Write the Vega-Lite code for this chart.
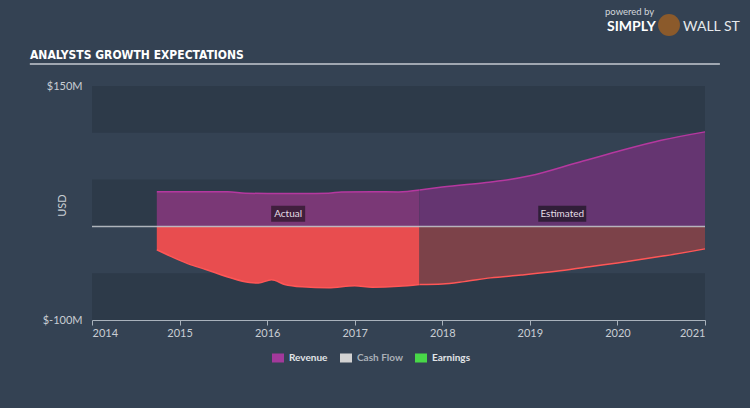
{
  "$schema": "https://vega.github.io/schema/vega-lite/v6.json",
  "width": 613,
  "height": 234,
  "autosize": {"type": "none"},
  "padding": {"left": 92, "top": 86, "right": 45, "bottom": 88},
  "background": "#344253",
  "config": {
    "view": {"stroke": null},
    "font": "Lato",
    "axis": {"labelFont": "Lato", "titleFont": "Lato"}
  },
  "datasets": {
    "bands": [
      {"x1": 2014, "x2": 2021, "lo": 100, "hi": 150},
      {"x1": 2014, "x2": 2021, "lo": 0, "hi": 50},
      {"x1": 2014, "x2": 2021, "lo": -100, "hi": -50}
    ],
    "revActual": [
      {"year": 2014.74, "value": 37.0},
      {"year": 2015.2, "value": 37.0},
      {"year": 2015.55, "value": 37.0},
      {"year": 2015.75, "value": 35.5},
      {"year": 2016.0, "value": 35.2},
      {"year": 2016.4, "value": 35.2},
      {"year": 2016.7, "value": 35.5},
      {"year": 2016.85, "value": 36.8},
      {"year": 2017.2, "value": 37.0},
      {"year": 2017.5, "value": 36.8},
      {"year": 2017.74, "value": 38.8}
    ],
    "revEst": [
      {"year": 2017.74, "value": 38.8},
      {"year": 2018.0, "value": 42},
      {"year": 2018.5, "value": 47},
      {"year": 2018.77, "value": 50},
      {"year": 2019.0, "value": 54},
      {"year": 2019.54, "value": 68},
      {"year": 2020.0, "value": 80},
      {"year": 2020.5, "value": 92},
      {"year": 2021.0, "value": 101}
    ],
    "earnActual": [
      {"year": 2014.74, "value": -25},
      {"year": 2014.9, "value": -32},
      {"year": 2015.1, "value": -40},
      {"year": 2015.3, "value": -46},
      {"year": 2015.55, "value": -54},
      {"year": 2015.8, "value": -60},
      {"year": 2015.9, "value": -60.5},
      {"year": 2016.05, "value": -57},
      {"year": 2016.2, "value": -62},
      {"year": 2016.4, "value": -64.5},
      {"year": 2016.7, "value": -65.5},
      {"year": 2017.0, "value": -63.5},
      {"year": 2017.2, "value": -65},
      {"year": 2017.5, "value": -64},
      {"year": 2017.74, "value": -62}
    ],
    "earnEst": [
      {"year": 2017.74, "value": -62},
      {"year": 2018.0, "value": -61.5},
      {"year": 2018.25, "value": -59},
      {"year": 2018.55, "value": -55},
      {"year": 2018.9, "value": -52},
      {"year": 2019.3, "value": -48},
      {"year": 2019.68, "value": -43},
      {"year": 2020.0, "value": -39},
      {"year": 2020.5, "value": -32},
      {"year": 2021.0, "value": -24}
    ]
  },
  "layer": [
    {
      "data": {"name": "bands"},
      "mark": {"type": "rect", "color": "#2d3a49"},
      "encoding": {
        "x": {
          "field": "x1", "type": "quantitative",
          "scale": {"domain": [2014, 2021], "nice": false, "zero": false},
          "axis": {
            "values": [2014, 2015, 2016, 2017, 2018, 2019, 2020, 2021],
            "format": "d",
            "title": null,
            "grid": false,
            "domainColor": "#a9b2bc",
            "tickColor": "#a9b2bc",
            "tickSize": 5,
            "labelColor": "#c9ced4",
            "labelFontSize": 11,
            "labelPadding": 2
          }
        },
        "x2": {"field": "x2"},
        "y": {
          "field": "lo", "type": "quantitative",
          "scale": {"domain": [-100, 150], "nice": false, "zero": false},
          "axis": {
            "values": [150, -100],
            "labelExpr": "'$' + datum.value + 'M'",
            "title": "USD",
            "titleX": -25,
            "titleY": 119,
            "titleAngle": -90,
            "titleColor": "#c9ced4",
            "titleFontSize": 11,
            "titleFontWeight": "normal",
            "grid": false,
            "domain": false,
            "ticks": false,
            "labelColor": "#c9ced4",
            "labelFontSize": 11,
            "labelPadding": 10
          }
        },
        "y2": {"field": "hi"}
      }
    },
    {
      "data": {"name": "revActual"},
      "mark": {"type": "area", "interpolate": "monotone", "color": "#7a3876", "opacity": 1, "line": {"color": "#b5389f", "strokeWidth": 1.5}},
      "encoding": {
        "x": {"field": "year", "type": "quantitative"},
        "y": {"field": "value", "type": "quantitative"},
        "y2": {"datum": 0}
      }
    },
    {
      "data": {"name": "revEst"},
      "mark": {"type": "area", "interpolate": "monotone", "color": "#653571", "opacity": 1, "line": {"color": "#b5389f", "strokeWidth": 1.5}},
      "encoding": {
        "x": {"field": "year", "type": "quantitative"},
        "y": {"field": "value", "type": "quantitative"},
        "y2": {"datum": 0}
      }
    },
    {
      "data": {"name": "earnActual"},
      "mark": {"type": "area", "interpolate": "monotone", "color": "#e84d4f", "opacity": 1, "line": {"color": "#ff5656", "strokeWidth": 1.5}},
      "encoding": {
        "x": {"field": "year", "type": "quantitative"},
        "y": {"field": "value", "type": "quantitative"},
        "y2": {"datum": 0}
      }
    },
    {
      "data": {"name": "earnEst"},
      "mark": {"type": "area", "interpolate": "monotone", "color": "#7c4249", "opacity": 1, "line": {"color": "#ff5656", "strokeWidth": 1.5}},
      "encoding": {
        "x": {"field": "year", "type": "quantitative"},
        "y": {"field": "value", "type": "quantitative"},
        "y2": {"datum": 0}
      }
    },
    {
      "data": {"values": [{"zero": 0}]},
      "mark": {"type": "rule", "color": "#c4c9cf", "strokeWidth": 1.5, "opacity": 0.85},
      "encoding": {"y": {"field": "zero", "type": "quantitative"}}
    },
    {
      "data": {"values": [{"year": 2016.24, "value": 13.5}]},
      "mark": {"type": "point", "shape": "M-1,-0.47H1V0.47H-1Z", "size": 1156, "filled": true, "color": "#3b1d38", "opacity": 0.92, "strokeWidth": 0},
      "encoding": {
        "x": {"field": "year", "type": "quantitative"},
        "y": {"field": "value", "type": "quantitative"}
      }
    },
    {
      "data": {"values": [{"year": 2019.37, "value": 13.5}]},
      "mark": {"type": "point", "shape": "M-1,-0.33H1V0.33H-1Z", "size": 2304, "filled": true, "color": "#2b1c33", "opacity": 0.92, "strokeWidth": 0},
      "encoding": {
        "x": {"field": "year", "type": "quantitative"},
        "y": {"field": "value", "type": "quantitative"}
      }
    },
    {
      "data": {"values": [{"year": 2016.24, "value": 13.5, "label": "Actual"}, {"year": 2019.37, "value": 13.5, "label": "Estimated"}]},
      "mark": {"type": "text", "color": "#e4dde6", "fontSize": 10, "font": "Lato"},
      "encoding": {
        "x": {"field": "year", "type": "quantitative"},
        "y": {"field": "value", "type": "quantitative"},
        "text": {"field": "label"}
      }
    },
    {
      "data": {"values": [{"x": 2013.292, "y": 178.8, "t": "ANALYSTS GROWTH EXPECTATIONS"}]},
      "mark": {"type": "text", "align": "left", "baseline": "alphabetic", "font": "DejaVu Sans Condensed, Roboto, sans-serif", "fontSize": 12, "fontWeight": "bold", "color": "#ffffff"},
      "encoding": {
        "x": {"field": "x", "type": "quantitative"},
        "y": {"field": "y", "type": "quantitative"},
        "text": {"field": "t"}
      }
    },
    {
      "data": {"values": [{"x1": 2013.29, "x2": 2021.17, "y": 173.5}]},
      "mark": {"type": "rule", "color": "#c5cad0", "strokeWidth": 1.5},
      "encoding": {
        "x": {"field": "x1", "type": "quantitative"},
        "x2": {"field": "x2"},
        "y": {"field": "y", "type": "quantitative"}
      }
    },
    {
      "data": {"values": [{"x": 2019.858, "y": 225.6, "t": "powered by"}]},
      "mark": {"type": "text", "align": "left", "baseline": "alphabetic", "color": "#d3d7db", "font": "Lato", "fontSize": 9.5},
      "encoding": {
        "x": {"field": "x", "type": "quantitative"},
        "y": {"field": "y", "type": "quantitative"},
        "text": {"field": "t"}
      }
    },
    {
      "data": {"values": [{"x": 2019.881, "y": 208.8, "t": "SIMPLY"}]},
      "mark": {"type": "text", "align": "left", "baseline": "alphabetic", "color": "#ffffff", "font": "Lato", "fontSize": 14, "fontWeight": "bold"},
      "encoding": {
        "x": {"field": "x", "type": "quantitative"},
        "y": {"field": "y", "type": "quantitative"},
        "text": {"field": "t"}
      }
    },
    {
      "data": {"values": [{"x": 2020.749, "y": 208.8, "t": "WALL ST"}]},
      "mark": {"type": "text", "align": "left", "baseline": "alphabetic", "color": "#e6e9ec", "font": "Lato", "fontSize": 14},
      "encoding": {
        "x": {"field": "x", "type": "quantitative"},
        "y": {"field": "y", "type": "quantitative"},
        "text": {"field": "t"}
      }
    },
    {
      "data": {"values": [{"x": 2020.589, "y": 215.2}]},
      "mark": {"type": "point", "shape": "circle", "filled": true, "size": 480, "color": "#8b5a2b", "opacity": 1},
      "encoding": {
        "x": {"field": "x", "type": "quantitative"},
        "y": {"field": "y", "type": "quantitative"}
      }
    },
    {
      "data": {"values": [{"series": "Revenue"}, {"series": "Cash Flow"}, {"series": "Earnings"}]},
      "mark": {"type": "point", "filled": true, "opacity": 0},
      "encoding": {
        "color": {
          "field": "series", "type": "nominal",
          "scale": {"domain": ["Revenue", "Cash Flow", "Earnings"], "range": ["#a3399b", "#d2d2d2", "#48d848"]},
          "legend": {
            "title": null,
            "orient": "none",
            "direction": "horizontal",
            "legendX": 180,
            "legendY": 266,
            "symbolType": "M-1,-0.75H1V0.75H-1Z",
            "symbolSize": 144,
            "symbolOpacity": 1,
            "symbolStrokeWidth": 0,
            "labelColor": "#e2e5e8",
            "labelFont": "Lato",
            "labelFontSize": 10,
            "labelFontWeight": "bold",
            "columnPadding": 12,
            "symbolOffset": 0,
            "labelOffset": 5,
            "encode": {"labels": {"update": {"fill": {"signal": "datum.label === 'Cash Flow' ? '#aab0b7' : '#e2e5e8'"}}}}
          }
        }
      }
    }
  ]
}
